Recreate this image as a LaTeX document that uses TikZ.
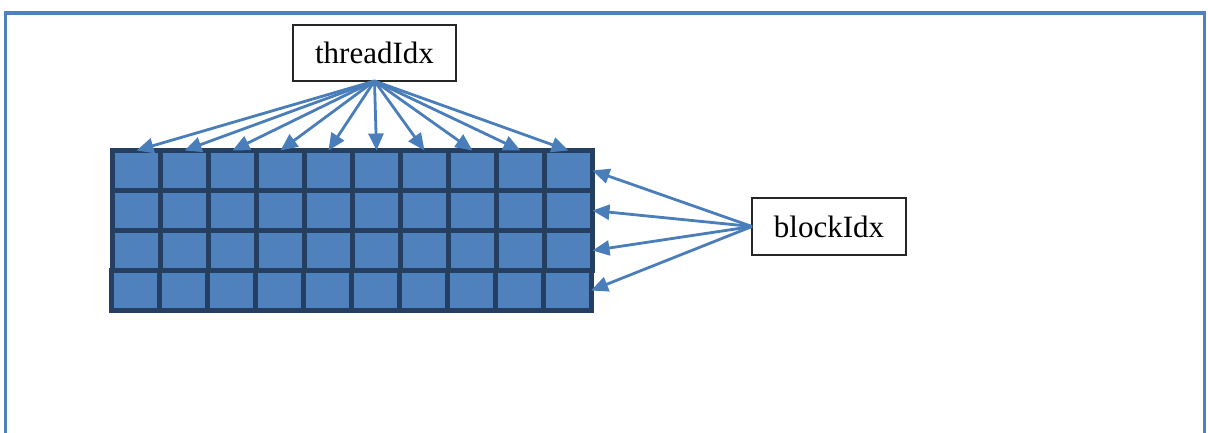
\documentclass[tikz,border=0pt]{standalone}
\usepackage{fontspec}
\setmainfont{Liberation Serif}
\usetikzlibrary{arrows.meta}
\definecolor{framecol}{HTML}{4F81BD}
\definecolor{cellfill}{HTML}{4F81BD}
\definecolor{celledge}{HTML}{243F60}
\definecolor{arrowcol}{HTML}{4A7EBB}
\tikzset{
  cellbox/.style={draw=celledge, fill=cellfill, line width=5pt, minimum width=48pt,
    minimum height=40pt, inner sep=0pt, outer sep=0pt},
  labelbox/.style={draw=black!85, line width=1.2pt, fill=white, inner sep=0pt,
    font=\fontsize{31}{36}\selectfont, outer sep=0pt},
  pointer/.style={draw=arrowcol, line width=2.8pt,
    -{Triangle[length=17pt,width=15pt]}}
}
\begin{document}
\begin{tikzpicture}[x=1pt,y=-1pt]
  \useasboundingbox (0,0) rectangle (1208,432);
  \clip (0,0) rectangle (1208,432);
  % outer frame
  \draw[framecol, line width=3.5pt] (5.5,460) -- (5.5,13) -- (1204.5,13) -- (1204.5,460);
  % grid of threads: 4 rows x 10 columns
  \foreach \r in {0,1,2,3} {
    \foreach \c in {0,...,9} {
      \pgfmathsetmacro{\sh}{\r==3 ? -1.5 : 0}
      \node[cellbox] (c-\r-\c) at ({136.5+48*\c+\sh},{170.5+40*\r}) {};
    }
  }
  % labels
  \node[labelbox, minimum width=163pt, minimum height=56pt] (tid) at (374.5,53) {threadIdx};
  \node[labelbox, minimum width=154pt, minimum height=57pt] (bid) at (829,226.5) {blockIdx};
  % pointers
  \foreach \c in {0,...,9} {
    \draw[pointer] (tid.south) -- (c-0-\c.north);
  }
  \foreach \r in {0,1,2,3} {
    \draw[pointer] (bid.west) -- (c-\r-9.east);
  }
\end{tikzpicture}
\end{document}
